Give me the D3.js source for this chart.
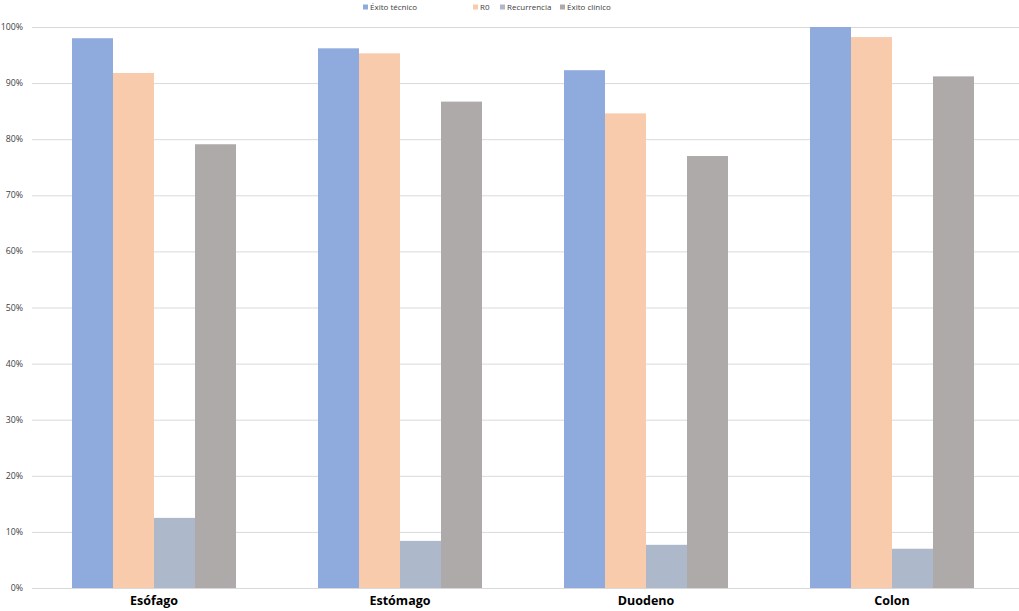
<!DOCTYPE html>
<html><head><meta charset="utf-8">
<script src="https://cdn.jsdelivr.net/npm/d3@7"></script>
<style>body{margin:0;background:#fff}svg{display:block;font-family:"Open Sans",sans-serif}</style>
</head><body><svg id="c" width="1019" height="611"></svg>
<script>
const categories = ["Esófago","Estómago","Duodeno","Colon"];
const seriesNames = ["Éxito técnico","R0","Recurrencia","Éxito clínico"];
const exitoTecnico = [98.0, 96.2, 92.3, 100];
const r0 = [91.8, 95.3, 84.6, 98.2];
const recurrencia = [12.5, 8.4, 7.7, 7.0];
const exitoClinico = [79.1, 86.7, 77.0, 91.2];
const yTicks = [0,10,20,30,40,50,60,70,80,90,100];
const colors = ["#8faadc","#f8cbad","#adb9ca","#aeaaaa"];
const seriesValues = [exitoTecnico, r0, recurrencia, exitoClinico];

(function(){
const svg = d3.select("#c");
const pLeft = 31, pRight = 1015, pTop = 27, pBottom = 588;
const x = d3.scaleBand().domain(categories).range([pLeft, pRight]).paddingInner(1/3).paddingOuter(1/6);
const xs = d3.scaleBand().domain(seriesNames).range([0, x.bandwidth()]);
const y = d3.scaleLinear().domain([0,100]).range([pBottom, pTop]);

svg.append("g").selectAll("line").data(yTicks).join("line")
  .attr("x1", pLeft + 1).attr("x2", 1019)
  .attr("y1", d => y(d)+0.5).attr("y2", d => y(d)+0.5)
  .attr("stroke", "#d9d9d9").attr("stroke-width", 1);

svg.append("g").selectAll("text").data(yTicks).join("text")
  .attr("x", 23).attr("y", d => y(d)).attr("dy", "0.35em")
  .attr("text-anchor", "end").attr("font-size", 8.8).attr("fill", "#404040")
  .text(d => d + "%");

const g = svg.append("g");
seriesNames.forEach((s, si) => {
  g.append("g").selectAll("rect").data(categories).join("rect")
    .attr("x", c => x(c) + xs(s))
    .attr("width", xs.bandwidth())
    .attr("y", (c, i) => y(seriesValues[si][i]))
    .attr("height", (c, i) => pBottom - y(seriesValues[si][i]))
    .attr("fill", colors[si]);
});

svg.append("g").selectAll("text").data(categories).join("text")
  .attr("x", c => x(c) + x.bandwidth()/2).attr("y", 605)
  .attr("text-anchor", "middle").attr("font-size", 12.5).attr("font-weight", "bold").attr("fill", "#000")
  .text(c => c);

const legX = [363, 473, 500, 560];
const leg = svg.append("g");
seriesNames.forEach((s, i) => {
  leg.append("rect").attr("x", legX[i]).attr("y", 4.5).attr("width", 5).attr("height", 5).attr("fill", colors[i]);
  leg.append("text").attr("x", legX[i] + 7).attr("y", 7).attr("dy", "0.35em")
    .attr("font-size", 8).attr("fill", "#404040").text(s);
});
})();
</script></body></html>
